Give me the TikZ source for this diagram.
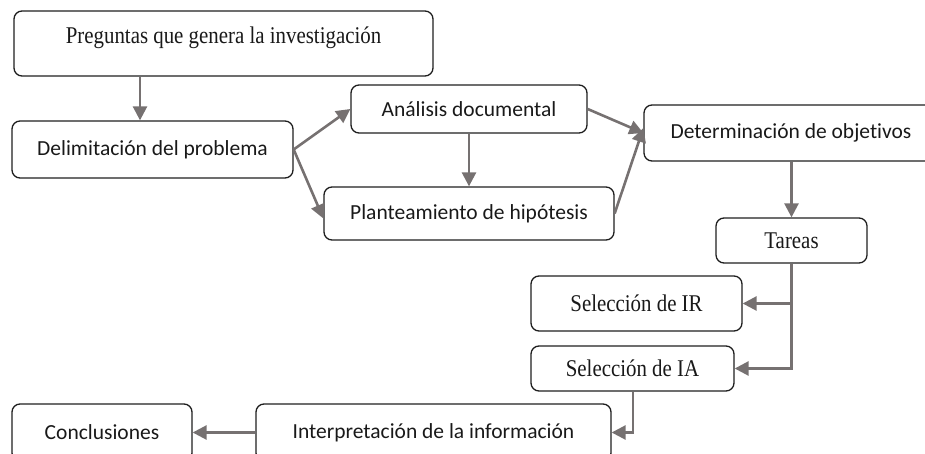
\documentclass[tikz,border=0pt]{standalone}
\usepackage{fontspec}
\setmainfont{Carlito}
\newfontfamily\sansbox[Ligatures=NoCommon]{Carlito}
\newfontfamily\serifbox[FakeStretch=0.87]{Liberation Serif}
\usetikzlibrary{arrows.meta}
\definecolor{arrgray}{RGB}{118,113,113}
\definecolor{edge}{RGB}{30,30,30}
\begin{document}
\begin{tikzpicture}[x=1pt,y=-1pt,
  box/.style={draw=edge, line width=1.3pt, rounded corners=8pt, inner sep=0pt},
  stxt/.style={font=\sansbox\fontsize{21.5}{24}\selectfont, text=black!90},
  rtxt/.style={font=\serifbox\fontsize{24}{27}\selectfont, text=black!90},
  arr/.style={draw=arrgray, line width=2.6pt,
    -{Triangle[length=14pt,width=14pt]}}]
\useasboundingbox (0,0) rectangle (925,454);
% boxes
\node[box, minimum width=419pt, minimum height=65pt] (preg) at (223.5,43.5) {};
\node[rtxt] (pregt) at (223.5,38) {Preguntas que genera la investigación};
\node[box, stxt, minimum width=281pt, minimum height=57pt] (delim) at (152.5,149.5) {Delimitación del problema};
\node[box, stxt, minimum width=236pt, minimum height=48pt] (anal) at (469,109) {Análisis documental};
\node[box, stxt, minimum width=290pt, minimum height=53pt] (plant) at (469,213.5) {Planteamiento de hipótesis};
\node[box, stxt, minimum width=294pt, minimum height=56pt] (det) at (791,133) {Determinación de objetivos};
\node[box, rtxt, minimum width=151pt, minimum height=45pt] (tareas) at (791.5,240.5) {Tareas};
\node[box, rtxt, minimum width=211pt, minimum height=55pt] (selir) at (636.5,303.5) {Selección de IR};
\node[box, rtxt, minimum width=203pt, minimum height=45pt] (selia) at (632.5,368.5) {Selección de IA};
\node[box, stxt, minimum width=355pt, minimum height=57pt] (interp) at (433.5,432.5) {Interpretación de la información};
\node[box, stxt, minimum width=180pt, minimum height=57pt] (concl) at (102,432.5) {Conclusiones};
% connectors
\draw[arr] (140,0 |- preg.south) -- (140,0 |- delim.north);
\draw[arr] (delim.east) -- (anal.west);
\draw[arr] (delim.east) -- ([yshift=-5pt]plant.west);
\draw[arr] (anal.south) -- (plant.north);
\draw[arr] (anal.east) -- (det.west);
\draw[arr] (plant.east) -- ([yshift=5pt]det.west);
\draw[arr] (tareas.north |- det.south) -- (tareas.north);
\draw[arr] (tareas.south) |- (selir.east);
\draw[arr] (tareas.south) |- (selia.east);
\draw[arr] (633,0 |- selia.south) |- (interp.east);
\draw[arr] (interp.west) -- (concl.east);
\end{tikzpicture}
\end{document}
